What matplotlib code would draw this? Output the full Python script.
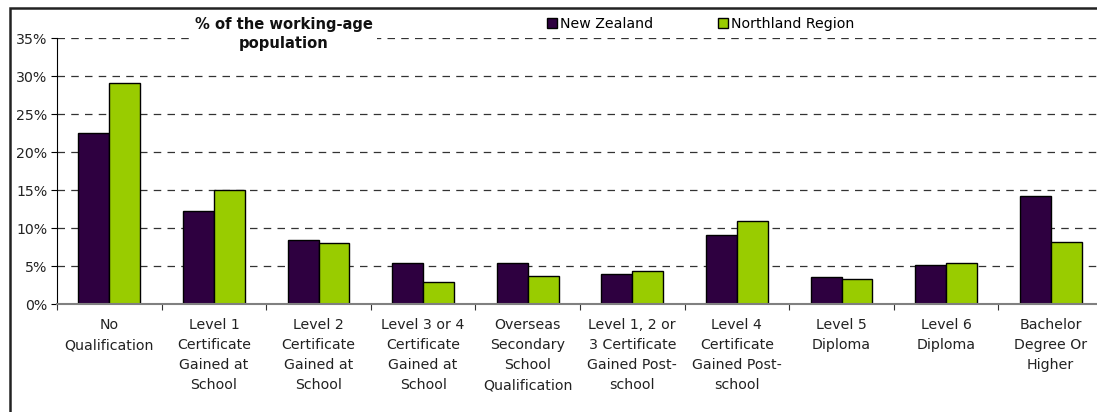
import numpy as np
import matplotlib.pyplot as plt
from matplotlib.patches import Rectangle

# Categories and values (% of working-age population)
categories = ['No\nQualification',
              'Level 1\nCertificate\nGained at\nSchool',
              'Level 2\nCertificate\nGained at\nSchool',
              'Level 3 or 4\nCertificate\nGained at\nSchool',
              'Overseas\nSecondary\nSchool\nQualification',
              'Level 1, 2 or\n3 Certificate\nGained Post-\nschool',
              'Level 4\nCertificate\nGained Post-\nschool',
              'Level 5\nDiploma',
              'Level 6\nDiploma',
              'Bachelor\nDegree Or\nHigher']
nz_values = [22.5, 12.3, 8.4, 5.4, 5.4, 4.0, 9.1, 3.5, 5.1, 14.2]
northland_values = [29.1, 15.0, 8.0, 2.9, 3.7, 4.4, 10.9, 3.3, 5.4, 8.2]
y_ticks = [0, 5, 10, 15, 20, 25, 30, 35]

nz_color = '#2E0040'
nl_color = '#99CC00'
fs = 10.2

fig = plt.figure(figsize=(10.97, 4.12), dpi=100)
ax = fig.add_axes([57/1097, 1 - 304/412, 1046/1097, 266/412])

x = np.arange(len(categories))
w = 0.296
ax.bar(x - w/2, nz_values, width=w, color=nz_color, edgecolor='black', linewidth=1, label='New Zealand', zorder=3)
ax.bar(x + w/2, northland_values, width=w, color=nl_color, edgecolor='black', linewidth=1, label='Northland Region', zorder=3)

ax.set_xlim(-0.5, len(categories) - 0.5)
ax.set_ylim(0, 35)
ax.set_yticks(y_ticks)
ax.set_yticklabels([f'{t}%' for t in y_ticks], fontsize=fs, color='#222222')

# category labels centered, ticks at boundaries
ax.set_xticks(x)
ax.set_xticklabels(categories, fontsize=fs, color='#222222', linespacing=1.56)
ax.set_xticks(np.arange(len(categories) + 1) - 0.5, minor=True)
ax.tick_params(axis='x', which='major', length=0, pad=10)
ax.tick_params(axis='x', which='minor', length=4, color='#333333', width=0.8)
ax.tick_params(axis='y', length=4, color='black', width=0.8, pad=3)

for t in y_ticks[1:]:
    ax.axhline(t, color='#333333', linestyle=(0, (6, 5)), linewidth=0.9, zorder=1)

for s in ['top', 'right']:
    ax.spines[s].set_visible(False)
ax.spines['left'].set_color('black')
ax.spines['bottom'].set_color('#808080')
ax.spines['bottom'].set_linewidth(1.5)
ax.spines['bottom'].set_zorder(4)

# title sits on top of the 35% gridline with a white background
fig.text(284/1097, 1 - 34/412, '% of the working-age\npopulation', ha='center', va='center',
         fontsize=10.6, fontweight='bold', color='#111111', linespacing=1.3, zorder=10,
         bbox=dict(facecolor='white', edgecolor='none', pad=3))

ax.legend(loc='upper left', bbox_to_anchor=(540/1097, 1 - 10/412), bbox_transform=fig.transFigure,
          ncol=2, frameon=False, fontsize=fs, handlelength=0.7, handleheight=0.7,
          handletextpad=0.2, columnspacing=4.6, borderpad=0)

# outer chart border (clipped on right and bottom)
fig.patches.append(Rectangle((10/1097, -0.1), 1.2, 1.1 - 8/412, transform=fig.transFigure,
                             fill=False, edgecolor='#222222', linewidth=1.8))

fig.savefig('out.png', dpi=100)
